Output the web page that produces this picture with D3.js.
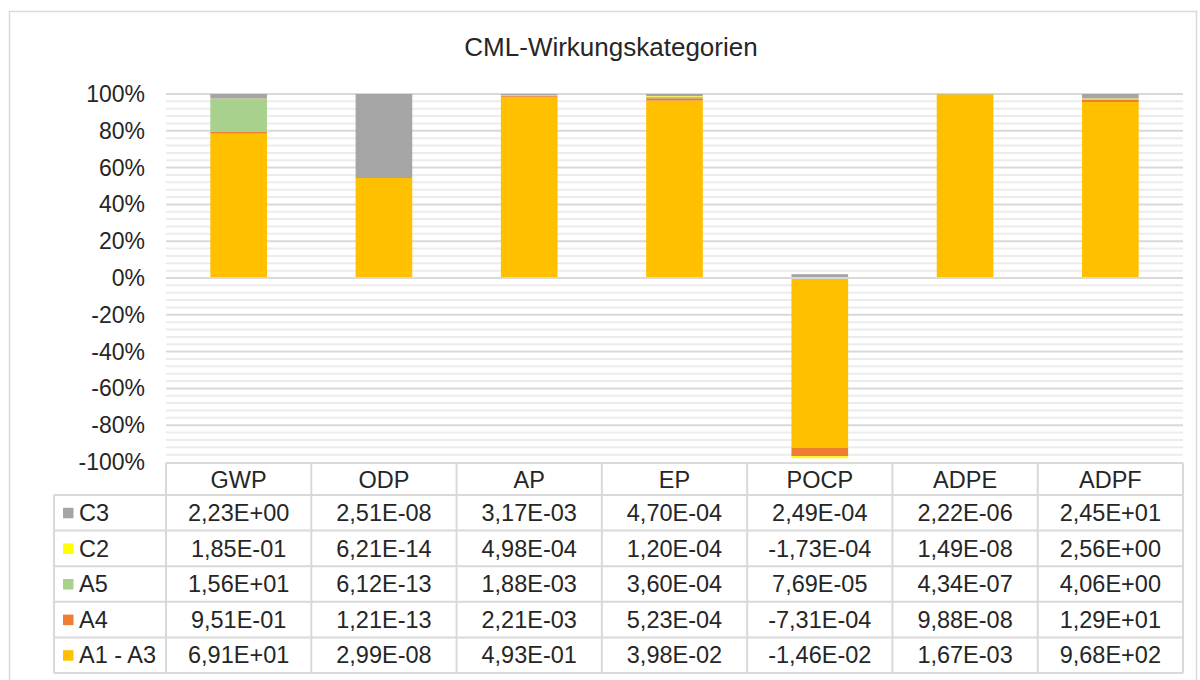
<!DOCTYPE html>
<html><head><meta charset="utf-8">
<script src="https://cdn.jsdelivr.net/npm/d3@7"></script>
<style>body{margin:0;background:#fff}svg{display:block;font-family:"Liberation Sans",Arial,sans-serif}</style>
</head><body><svg id="c" width="1200" height="680"></svg>
<script>
const categories = ["GWP","ODP","AP","EP","POCP","ADPE","ADPF"];
const seriesNames = ["C3","C2","A5","A4","A1 - A3"];
const valC3   = [2.23e+00, 2.51e-08, 3.17e-03, 4.70e-04, 2.49e-04, 2.22e-06, 2.45e+01];
const valC2   = [1.85e-01, 6.21e-14, 4.98e-04, 1.20e-04, -1.73e-04, 1.49e-08, 2.56e+00];
const valA5   = [1.56e+01, 6.12e-13, 1.88e-03, 3.60e-04, 7.69e-05, 4.34e-07, 4.06e+00];
const valA4   = [9.51e-01, 1.21e-13, 2.21e-03, 5.23e-04, -7.31e-04, 9.88e-08, 1.29e+01];
const valA13  = [6.91e+01, 2.99e-08, 4.93e-01, 3.98e-02, -1.46e-02, 1.67e-03, 9.68e+02];
const yTicks = [100,80,60,40,20,0,-20,-40,-60,-80,-100];
const seriesColors = {"C3":"#A5A5A5","C2":"#FFFF00","A5":"#A9D18E","A4":"#ED7D31","A1 - A3":"#FFC000"};
const seriesValues = {"C3":valC3,"C2":valC2,"A5":valA5,"A4":valA4,"A1 - A3":valA13};

function fmt(v){
  let s = v.toExponential(2).toUpperCase();
  let m = s.match(/^(-?[\d.]+)E([+-])(\d+)$/);
  let e = m[3].padStart(2,"0");
  return m[1].replace(".",",")+"E"+m[2]+e;
}

const svg = d3.select("#c");
const txt = "#262626";
svg.append("rect").attr("x",9.5).attr("y",11.5).attr("width",1187).attr("height",700)
  .attr("fill","#fff").attr("stroke","#d9d9d9").attr("stroke-width",1.5);

svg.append("text").attr("x",611).attr("y",56).attr("text-anchor","middle")
  .attr("font-size",26).attr("fill",txt).text("CML-Wirkungskategorien");

const x0 = 166, x1 = 1183;
const x = d3.scaleBand().domain(categories).range([x0,x1]).padding(0);
const y = d3.scaleLinear().domain([-100,100]).range([462,94]);

const minor = d3.range(-100,101,4).filter(v=>v%20!==0);
svg.append("g").selectAll("line").data(minor).join("line")
  .attr("x1",x0).attr("x2",x1).attr("y1",d=>y(d)).attr("y2",d=>y(d))
  .attr("stroke","#ececec").attr("stroke-width",2);
svg.append("g").selectAll("line").data(yTicks.filter(v=>v!==-100 && v!==0)).join("line")
  .attr("x1",x0).attr("x2",x1).attr("y1",d=>y(d)).attr("y2",d=>y(d))
  .attr("stroke","#d9d9d9").attr("stroke-width",2);

svg.append("g").selectAll("text").data(yTicks).join("text")
  .attr("x",145).attr("y",d=>y(d)).attr("dy","0.35em").attr("text-anchor","end")
  .attr("font-size",23).attr("fill",txt).text(d=>d+"%");

const rows = categories.map((c,i)=>{
  const o = {cat:c};
  const tot = d3.sum(seriesNames, s=>Math.abs(seriesValues[s][i]));
  seriesNames.forEach(s=>o[s] = seriesValues[s][i]/tot*100);
  return o;
});
const stackOrder = ["A1 - A3","A4","A5","C2","C3"];
const stacked = d3.stack().keys(stackOrder).offset(d3.stackOffsetDiverging)(rows);
const bw = x.bandwidth()*0.39;
svg.append("g").selectAll("g").data(stacked).join("g")
  .attr("fill",d=>seriesColors[d.key])
  .selectAll("rect").data(d=>d).join("rect")
  .attr("x",d=>x(d.data.cat)+(x.bandwidth()-bw)/2)
  .attr("width",bw)
  .attr("y",d=>y(Math.max(d[0],d[1])))
  .attr("height",d=>Math.abs(y(d[0])-y(d[1])));

// zero line over bars
svg.append("line").attr("x1",x0).attr("x2",x1).attr("y1",y(0)).attr("y2",y(0))
  .attr("stroke","#d9d9d9").attr("stroke-width",2);

const hTop = 463, hBot = 495, rowH = 35.6, legL = 54;
const tg = svg.append("g");
const border = "#d9d9d9";
const tableBottom = hBot + rowH*seriesNames.length;
const fs = 23.5;
categories.forEach(c=>{
  tg.append("text").attr("x",x(c)+x.bandwidth()/2).attr("y",(hTop+hBot)/2+1).attr("dy","0.35em")
    .attr("text-anchor","middle").attr("font-size",fs).attr("fill",txt).text(c);
});
seriesNames.forEach((s,r)=>{
  const cy = hBot + rowH*r + rowH/2;
  tg.append("rect").attr("x",63).attr("y",cy-5).attr("width",10.5).attr("height",10.5).attr("fill",seriesColors[s]);
  tg.append("text").attr("x",79).attr("y",cy).attr("dy","0.35em").attr("font-size",fs).attr("fill",txt).text(s);
  categories.forEach((c,i)=>{
    tg.append("text").attr("x",x(c)+x.bandwidth()/2).attr("y",cy).attr("dy","0.35em")
      .attr("text-anchor","middle").attr("font-size",fs).attr("fill",txt).text(fmt(seriesValues[s][i]));
  });
});
const lines = [];
lines.push([x0,hTop,x1,hTop]);
d3.range(seriesNames.length+1).forEach(r=>lines.push([legL,hBot+rowH*r,x1,hBot+rowH*r]));
categories.forEach(c=>lines.push([x(c),hTop,x(c),tableBottom]));
lines.push([x1,hTop,x1,tableBottom]);
lines.push([legL,hBot,legL,tableBottom]);
tg.selectAll("line").data(lines).join("line")
  .attr("x1",d=>d[0]).attr("y1",d=>d[1]).attr("x2",d=>d[2]).attr("y2",d=>d[3])
  .attr("stroke",border).attr("stroke-width",2);
</script></body></html>
